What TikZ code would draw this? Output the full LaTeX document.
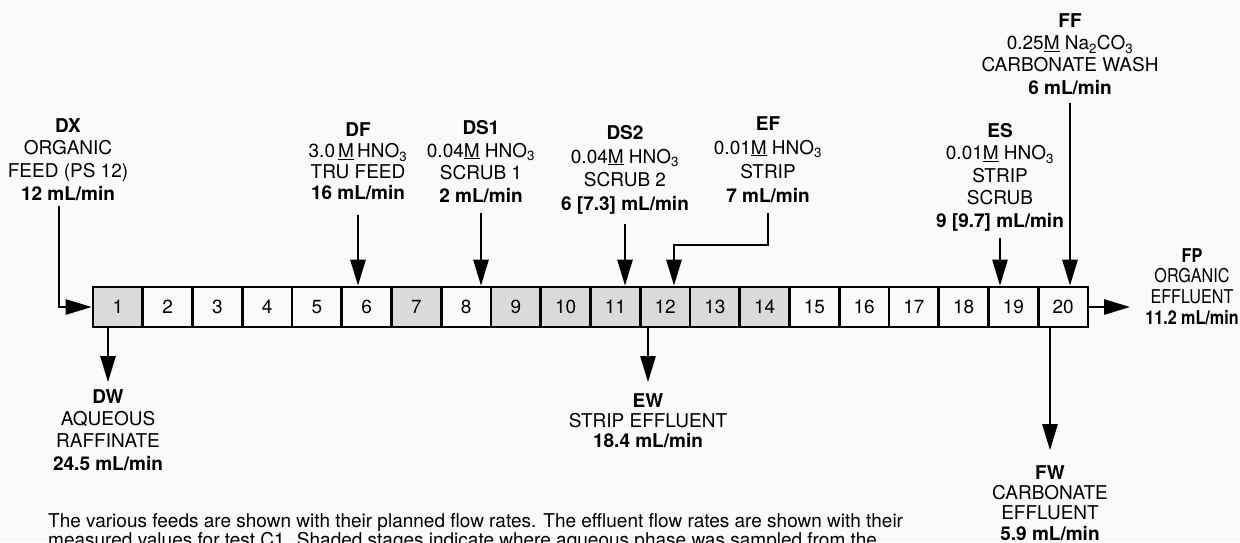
\documentclass[tikz,border=0pt]{standalone}
\usepackage{fontspec}
\setmainfont{TeX Gyre Heros}
\newfontfamily\narrowfont[FakeStretch=0.85]{TeX Gyre Heros}
\usetikzlibrary{arrows.meta,positioning,calc}
\definecolor{PaperGray}{RGB}{250,250,250}
\definecolor{StageShade}{RGB}{218,218,218}

\begin{document}
\begin{tikzpicture}[x=1pt,y=-1pt,
        stage/.style={draw,line width=2.6pt,minimum width=49.75pt,minimum height=40pt,
                      inner sep=0pt,font=\fontsize{19}{21}\selectfont},
        lbl/.style={align=center,inner sep=0pt,anchor=north},
        arr/.style={-{Triangle[length=26pt,width=15pt]},line width=2.6pt}
      ]
        \useasboundingbox[fill=PaperGray] (0,0) rectangle (1240,542);
        \foreach \i/\c in {1/StageShade,2/PaperGray,3/PaperGray,4/PaperGray,5/PaperGray,
                           6/PaperGray,7/StageShade,8/PaperGray,9/StageShade,10/StageShade,
                           11/StageShade,12/StageShade,13/StageShade,14/StageShade,
                           15/PaperGray,16/PaperGray,17/PaperGray,18/PaperGray,
                           19/PaperGray,20/PaperGray}
          \node[stage,fill=\c] (s\i) at ({93+49.75*(\i-0.5)},307) {\i};

        \node[lbl,font=\fontsize{19}{22.7}\selectfont] (dx)  at (68,118.2)
          {\textbf{DX}\\ORGANIC\\FEED (PS 12)\\\textbf{12 mL/min}};
        \node[lbl,font=\fontsize{19}{21}\selectfont] (df)  at (358,122.5)
          {\textbf{DF}\\3.0\,\underline{M}\,HNO\textsubscript{3}\\TRU FEED\\\textbf{16 mL/min}};
        \node[lbl,font=\fontsize{19}{22.7}\selectfont] (ds1) at (481,120.2)
          {\textbf{DS1}\\0.04\underline{M} HNO\textsubscript{3}\\SCRUB 1\\\textbf{2 mL/min}};
        \node[lbl,font=\fontsize{19}{23.7}\selectfont] (ds2) at (625,125.2)
          {\textbf{DS2}\\0.04\underline{M} HNO\textsubscript{3}\\SCRUB 2\\\textbf{6 [7.3] mL/min}};
        \node[lbl,font=\fontsize{19}{24}\selectfont] (ef)  at (768,116.2)
          {\textbf{EF}\\0.01\underline{M} HNO\textsubscript{3}\\STRIP\\\textbf{7 mL/min}};
        \node[lbl,font=\fontsize{19}{22.5}\selectfont] (es)  at (1000,123.2)
          {\textbf{ES}\\0.01\underline{M} HNO\textsubscript{3}\\STRIP\\SCRUB\\\textbf{9 [9.7] mL/min}};
        \node[lbl,font=\fontsize{19}{22.3}\selectfont] (ff)  at (1070,13.2)
          {\textbf{FF}\\0.25\underline{M} Na\textsubscript{2}CO\textsubscript{3}\\CARBONATE WASH\\\textbf{6 mL/min}};
        \node[lbl,font=\narrowfont\fontsize{19}{20.7}\selectfont] (fp) at (1192,248.2)
          {\textbf{FP}\\ORGANIC\\EFFLUENT\\\textbf{11.2 mL/min}};
        \node[lbl,font=\fontsize{19}{22.3}\selectfont] (dw)  at (108,389.2)
          {\textbf{DW}\\AQUEOUS\\RAFFINATE\\\textbf{24.5 mL/min}};
        \node[lbl,font=\fontsize{19}{20}\selectfont] (ew)  at (648,393.2)
          {\textbf{EW}\\STRIP EFFLUENT\\\textbf{18.4 mL/min}};
        \node[lbl,font=\fontsize{19}{20.3}\selectfont] (fw)  at (1050,465.2)
          {\textbf{FW}\\CARBONATE\\EFFLUENT\\\textbf{5.9 mL/min}};

        \node[anchor=north west,align=left,inner sep=0pt,font=\fontsize{19}{17}\selectfont] (note) at (48,513.5)
          {The various feeds are shown with their planned flow rates.  The effluent flow rates are shown with their\\
           measured values for test C1.  Shaded stages indicate where aqueous phase was sampled from the};

        \coordinate (efbend) at (674,245);
        \draw[arr] ([xshift=-9pt,yshift=-5pt]dx.south) |- (s1.west);
        \draw[arr] ([yshift=-15pt]df.south) -- (df.south |- s6.north);
        \draw[arr] ([yshift=-10pt]ds1.south) -- (ds1.south |- s8.north);
        \draw[arr] ([yshift=-9pt]ds2.south) -- (ds2.south |- s11.north);
        \draw[arr] ([yshift=-10pt]ef.south) |- (efbend) -- (efbend |- s12.north);
        \draw[arr] ([yshift=-7pt]es.south) -- (es.south |- s19.north);
        \draw[arr] ([yshift=-8pt]ff.south) -- (ff.south |- s20.north);
        \draw[arr,shorten >=15pt] (s20.east) -- (s20.east -| fp.west);
        \draw[arr,shorten >=7pt] (dw.north |- s1.south) -- (dw.north);
        \draw[arr,shorten >=11pt] (ew.north |- s12.south) -- (ew.north);
        \draw[arr,shorten >=15pt] (fw.north |- s20.south) -- (fw.north);
      \end{tikzpicture}
\end{document}
